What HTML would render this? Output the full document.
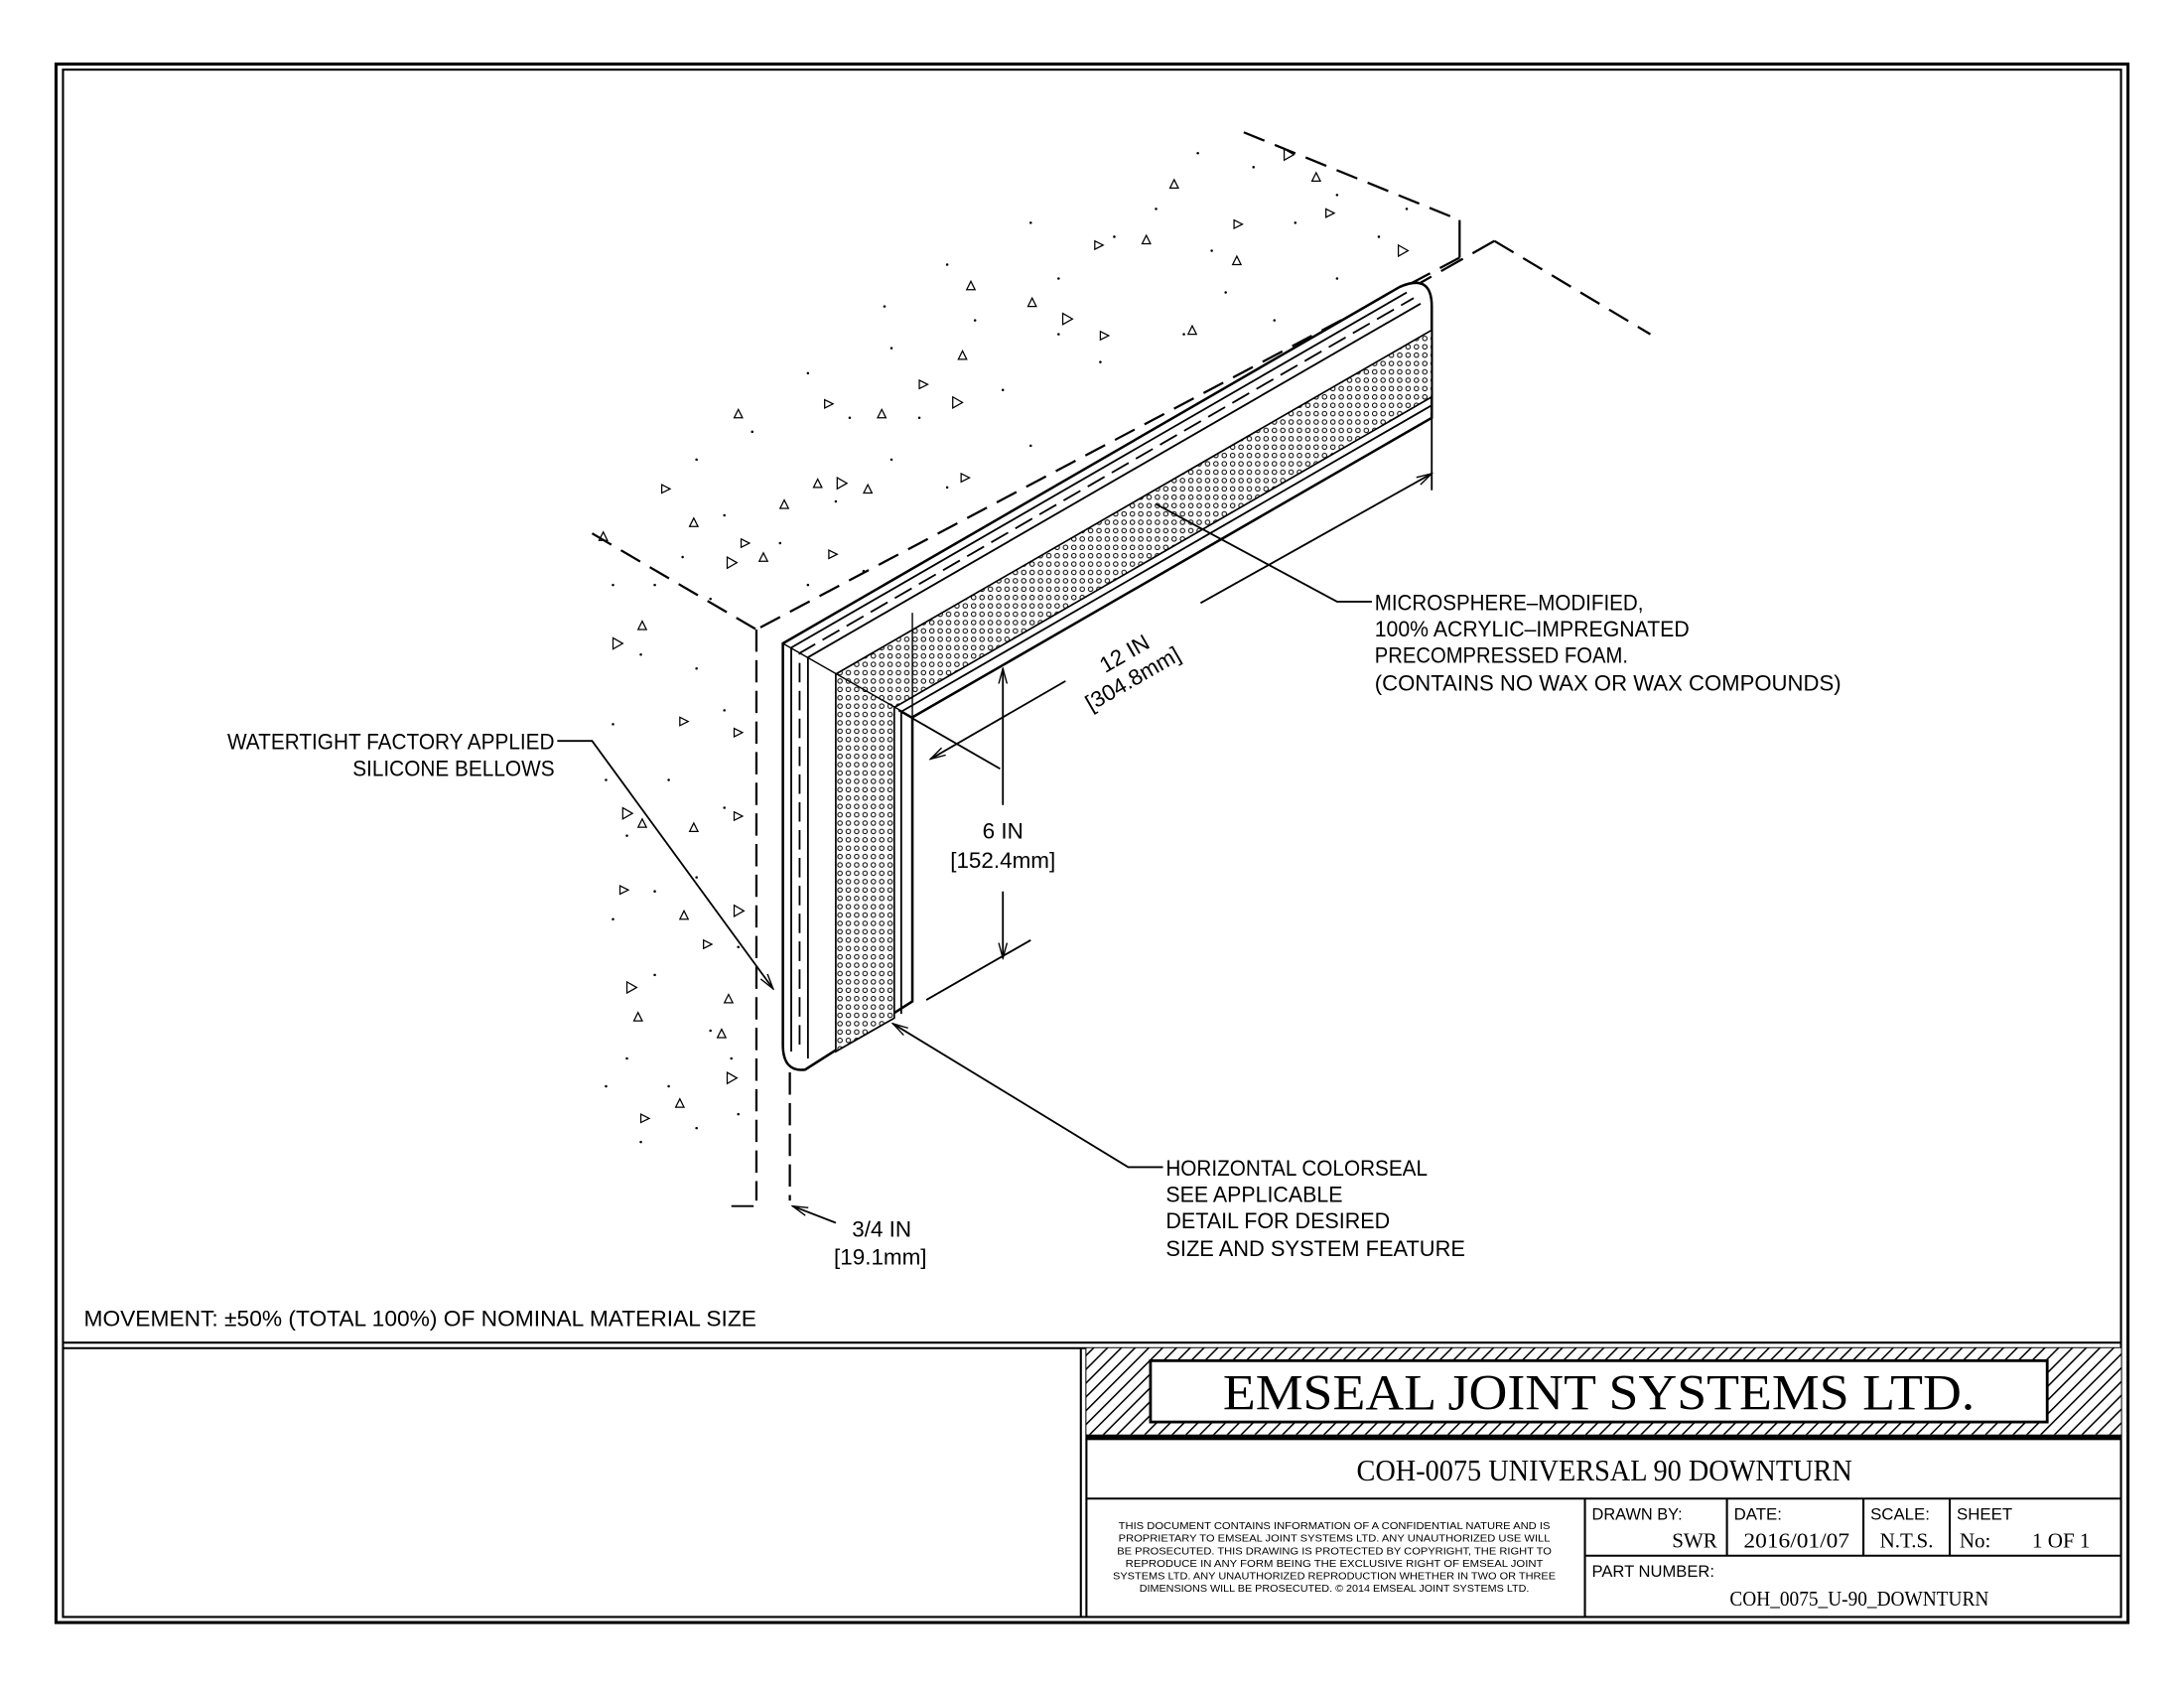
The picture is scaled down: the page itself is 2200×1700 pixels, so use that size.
<!DOCTYPE html>
<html><head><meta charset="utf-8"><style>
html,body{margin:0;padding:0;background:#fff;}
svg{display:block;}
text{font-family:"Liberation Sans",sans-serif;fill:#000;}
.s{font-family:"Liberation Serif",serif;}
</style></head><body>
<svg width="2200" height="1700" viewBox="0 0 1568 1212" xmlns="http://www.w3.org/2000/svg">
<defs>
<pattern id="hat" width="7" height="7" patternUnits="userSpaceOnUse" patternTransform="rotate(45)">
<rect width="7" height="7" fill="#fff"/><line x1="0" y1="0" x2="0" y2="7" stroke="#000" stroke-width="2.2"/></pattern>
<pattern id="dots" width="6" height="6" patternUnits="userSpaceOnUse">
<rect width="6" height="6" fill="#fff"/><circle cx="3" cy="3" r="1.6" fill="none" stroke="#000" stroke-width="0.7"/></pattern>
<marker id="ar" markerWidth="12" markerHeight="8" refX="11" refY="4" orient="auto" markerUnits="userSpaceOnUse"><path d="M0,1 L11,4 L0,7" fill="none" stroke="#000" stroke-width="1"/></marker>
</defs>
<rect width="1568" height="1212" fill="#fff"/>
<g fill="none" stroke="#000">
<rect x="40" y="46" width="1488" height="1119" stroke-width="2.2"/>
<rect x="45" y="50" width="1478" height="1111" stroke-width="1.5"/>
<line x1="45" y1="964" x2="1523" y2="964" stroke-width="1.5"/>
<line x1="45" y1="968" x2="1523" y2="968" stroke-width="1.5"/>
<line x1="776" y1="968" x2="776" y2="1161" stroke-width="1.5"/>
<line x1="780" y1="968" x2="780" y2="1161" stroke-width="1.5"/>
</g>
<!-- title block -->
<rect x="780" y="968" width="743" height="62" fill="url(#hat)"/>
<rect x="826" y="977" width="644" height="44" fill="#fff" stroke="#000" stroke-width="2"/>
<rect x="780" y="1030" width="743" height="4" fill="#000"/>
<g fill="none" stroke="#000" stroke-width="1.5">
<line x1="780" y1="1076" x2="1523" y2="1076"/>
<line x1="1138" y1="1076" x2="1138" y2="1161"/>
<line x1="1240" y1="1076" x2="1240" y2="1117"/>
<line x1="1338" y1="1076" x2="1338" y2="1117"/>
<line x1="1400" y1="1076" x2="1400" y2="1117"/>
<line x1="1138" y1="1117" x2="1523" y2="1117"/>
</g>
<text class="s" x="1148" y="1012" font-size="36" text-anchor="middle" textLength="540" lengthAdjust="spacingAndGlyphs">EMSEAL JOINT SYSTEMS LTD.</text>
<text class="s" x="1152" y="1063" font-size="22" text-anchor="middle" textLength="356" lengthAdjust="spacingAndGlyphs">COH-0075 UNIVERSAL 90 DOWNTURN</text>
<g font-size="7.5" text-anchor="middle">
<text x="958" y="1098" textLength="310" lengthAdjust="spacingAndGlyphs">THIS DOCUMENT CONTAINS INFORMATION OF A CONFIDENTIAL NATURE AND IS</text>
<text x="958" y="1107" textLength="310" lengthAdjust="spacingAndGlyphs">PROPRIETARY TO EMSEAL JOINT SYSTEMS LTD. ANY UNAUTHORIZED USE WILL</text>
<text x="958" y="1116" textLength="312" lengthAdjust="spacingAndGlyphs">BE PROSECUTED. THIS DRAWING IS PROTECTED BY COPYRIGHT, THE RIGHT TO</text>
<text x="958" y="1125" textLength="300" lengthAdjust="spacingAndGlyphs">REPRODUCE IN ANY FORM BEING THE EXCLUSIVE RIGHT OF EMSEAL JOINT</text>
<text x="958" y="1134" textLength="318" lengthAdjust="spacingAndGlyphs">SYSTEMS LTD. ANY UNAUTHORIZED REPRODUCTION WHETHER IN TWO OR THREE</text>
<text x="958" y="1143" textLength="280" lengthAdjust="spacingAndGlyphs">DIMENSIONS WILL BE PROSECUTED. © 2014 EMSEAL JOINT SYSTEMS LTD.</text>
</g>
<g font-size="12">
<text x="1143" y="1091" textLength="65" lengthAdjust="spacingAndGlyphs">DRAWN BY:</text>
<text x="1245" y="1091">DATE:</text>
<text x="1343" y="1091">SCALE:</text>
<text x="1405" y="1091">SHEET</text>
<text x="1143" y="1132" textLength="88" lengthAdjust="spacingAndGlyphs">PART NUMBER:</text>
</g>
<g class="s" font-size="15">
<text class="s" x="1233" y="1111" text-anchor="end">SWR</text>
<text class="s" x="1290" y="1111" text-anchor="middle" textLength="76" lengthAdjust="spacingAndGlyphs">2016/01/07</text>
<text class="s" x="1369" y="1111" text-anchor="middle">N.T.S.</text>
<text class="s" x="1407" y="1111">No:</text>
<text class="s" x="1480" y="1111" text-anchor="middle">1 OF 1</text>
<text class="s" x="1335" y="1153" text-anchor="middle" textLength="186" lengthAdjust="spacingAndGlyphs">COH_0075_U-90_DOWNTURN</text>
</g>
<!-- concrete texture -->
<g fill="#000">
<circle cx="580" cy="268" r="0.9"/><circle cx="610" cy="300" r="0.9"/><circle cx="640" cy="250" r="0.9"/><circle cx="700" cy="230" r="0.9"/><circle cx="720" cy="280" r="0.9"/><circle cx="760" cy="200" r="0.9"/><circle cx="800" cy="170" r="0.9"/><circle cx="830" cy="150" r="0.9"/><circle cx="870" cy="180" r="0.9"/><circle cx="900" cy="120" r="0.9"/><circle cx="930" cy="160" r="0.9"/><circle cx="960" cy="140" r="0.9"/><circle cx="990" cy="170" r="0.9"/><circle cx="1010" cy="150" r="0.9"/><circle cx="850" cy="240" r="0.9"/><circle cx="790" cy="260" r="0.9"/><circle cx="740" cy="320" r="0.9"/><circle cx="680" cy="350" r="0.9"/><circle cx="640" cy="330" r="0.9"/><circle cx="600" cy="360" r="0.9"/><circle cx="560" cy="390" r="0.9"/><circle cx="520" cy="370" r="0.9"/><circle cx="490" cy="400" r="0.9"/><circle cx="470" cy="420" r="0.9"/><circle cx="510" cy="430" r="0.9"/><circle cx="500" cy="330" r="0.9"/><circle cx="540" cy="310" r="0.9"/><circle cx="660" cy="300" r="0.9"/><circle cx="700" cy="390" r="0.9"/><circle cx="620" cy="410" r="0.9"/><circle cx="580" cy="420" r="0.9"/><circle cx="760" cy="240" r="0.9"/><circle cx="880" cy="210" r="0.9"/><circle cx="915" cy="230" r="0.9"/><circle cx="960" cy="200" r="0.9"/><circle cx="860" cy="110" r="0.9"/><circle cx="740" cy="160" r="0.9"/><circle cx="680" cy="190" r="0.9"/><circle cx="635" cy="220" r="0.9"/>
<circle cx="440" cy="420" r="0.9"/><circle cx="460" cy="470" r="0.9"/><circle cx="500" cy="480" r="0.9"/><circle cx="440" cy="520" r="0.9"/><circle cx="480" cy="560" r="0.9"/><circle cx="520" cy="580" r="0.9"/><circle cx="450" cy="600" r="0.9"/><circle cx="500" cy="630" r="0.9"/><circle cx="440" cy="660" r="0.9"/><circle cx="530" cy="680" r="0.9"/><circle cx="470" cy="700" r="0.9"/><circle cx="510" cy="740" r="0.9"/><circle cx="450" cy="760" r="0.9"/><circle cx="480" cy="780" r="0.9"/><circle cx="530" cy="800" r="0.9"/><circle cx="460" cy="820" r="0.9"/><circle cx="500" cy="810" r="0.9"/><circle cx="435" cy="780" r="0.9"/><circle cx="520" cy="510" r="0.9"/><circle cx="470" cy="640" r="0.9"/><circle cx="435" cy="560" r="0.9"/><circle cx="525" cy="760" r="0.9"/>
</g>
<g fill="none" stroke="#000" stroke-width="0.9">
<path d="M592,287 l6,3 l-6,3z"/><path d="M630,300 l3,-6 l3,6z"/><path d="M660,273 l6,3 l-6,3z"/><path d="M688,258 l3,-6 l3,6z"/><path d="M684,285 l7,4 l-7,4z"/><path d="M738,220 l3,-6 l3,6z"/><path d="M763,225 l7,4 l-7,4z"/><path d="M790,238 l6,3 l-6,3z"/><path d="M853,240 l3,-6 l3,6z"/><path d="M820,175 l3,-6 l3,6z"/><path d="M786,173 l6,3 l-6,3z"/><path d="M840,135 l3,-6 l3,6z"/><path d="M886,158 l6,3 l-6,3z"/><path d="M922,107 l7,4 l-7,4z"/><path d="M942,130 l3,-6 l3,6z"/><path d="M952,150 l6,3 l-6,3z"/><path d="M1004,176 l7,4 l-7,4z"/><path d="M885,190 l3,-6 l3,6z"/><path d="M694,208 l3,-6 l3,6z"/><path d="M601,343 l7,4 l-7,4z"/><path d="M584,350 l3,-6 l3,6z"/><path d="M620,354 l3,-6 l3,6z"/><path d="M690,340 l6,3 l-6,3z"/><path d="M527,300 l3,-6 l3,6z"/><path d="M560,365 l3,-6 l3,6z"/><path d="M475,348 l6,3 l-6,3z"/><path d="M495,378 l3,-6 l3,6z"/><path d="M532,387 l6,3 l-6,3z"/><path d="M522,400 l7,4 l-7,4z"/><path d="M545,403 l3,-6 l3,6z"/><path d="M595,395 l6,3 l-6,3z"/><path d="M430,388 l3,-6 l3,6z"/>
<path d="M440,458 l7,4 l-7,4z"/><path d="M458,452 l3,-6 l3,6z"/><path d="M488,515 l6,3 l-6,3z"/><path d="M527,523 l6,3 l-6,3z"/><path d="M447,580 l7,4 l-7,4z"/><path d="M458,594 l3,-6 l3,6z"/><path d="M495,597 l3,-6 l3,6z"/><path d="M527,583 l6,3 l-6,3z"/><path d="M445,636 l6,3 l-6,3z"/><path d="M488,660 l3,-6 l3,6z"/><path d="M527,650 l7,4 l-7,4z"/><path d="M505,675 l6,3 l-6,3z"/><path d="M450,705 l7,4 l-7,4z"/><path d="M455,733 l3,-6 l3,6z"/><path d="M520,720 l3,-6 l3,6z"/><path d="M522,770 l7,4 l-7,4z"/><path d="M485,795 l3,-6 l3,6z"/><path d="M460,800 l6,3 l-6,3z"/><path d="M515,745 l3,-6 l3,6z"/>
</g>
<!-- concrete edges -->
<g fill="none" stroke="#000" stroke-width="1.6">
<line x1="893" y1="95" x2="1048" y2="158" stroke-dasharray="16,8"/>
<line x1="1048" y1="158" x2="1048" y2="185"/>
<line x1="1048" y1="185" x2="543" y2="452" stroke-dasharray="16,8"/>
<line x1="425" y1="383" x2="543" y2="452" stroke-dasharray="16,8"/>
<line x1="543" y1="452" x2="543" y2="862" stroke-dasharray="16,6"/>
<line x1="1073" y1="173" x2="1185" y2="240" stroke-dasharray="16,8"/>
<line x1="1073" y1="173" x2="1020" y2="203" stroke-dasharray="18,8"/>
<line x1="567" y1="770" x2="567" y2="862" stroke-dasharray="16,6"/>
</g>
<!-- seal -->
<path d="M562,462 L1005,206 Q1028,196 1028,220 L1028,300 L655,515 L655,719 L578,768 Q562,770 562,750 Z" fill="#fff" stroke="#000" stroke-width="1.8"/>
<path d="M600,755 L600,484 L1028,237 L1028,285 L642,508 L642,731 Z" fill="url(#dots)" stroke="#000" stroke-width="1.2"/>
<g fill="none" stroke="#000" stroke-width="1.3">
<polyline points="568,755 568,465 1010,210"/>
<polyline points="580,760 580,472 1020,218"/>
<polyline points="574,750 574,469 1015,214" stroke-dasharray="14,6"/>
<polyline points="647,728 647,511 1028,291"/>
<line x1="562" y1="462" x2="655" y2="515" stroke-width="1"/>
<line x1="655" y1="440" x2="655" y2="515" stroke-width="1"/>
</g>
<!-- dimensions -->
<g fill="none" stroke="#000" stroke-width="1.3">
<line x1="1028" y1="300" x2="1028" y2="352"/>
<line x1="645" y1="510" x2="718" y2="552"/>
<line x1="765" y1="489" x2="668" y2="545" marker-end="url(#ar)"/>
<line x1="862" y1="433" x2="1028" y2="340" marker-end="url(#ar)"/>
<line x1="720" y1="578" x2="720" y2="480" marker-end="url(#ar)"/>
<line x1="720" y1="640" x2="720" y2="688" marker-end="url(#ar)"/>
<line x1="665" y1="718" x2="740" y2="675"/>
<line x1="600" y1="878" x2="569" y2="866" marker-end="url(#ar)"/>
<line x1="525" y1="866" x2="541" y2="866"/>
<!-- leaders -->
<polyline points="400,532 425,532 555,710" marker-end="url(#ar)"/>
<polyline points="985,432 960,432 830,362"/>
<polyline points="835,838 810,838 641,735" marker-end="url(#ar)"/>
</g>
<text x="0" y="0" font-size="16" text-anchor="middle" transform="translate(810,474) rotate(-30)">12 IN</text>
<text x="0" y="0" font-size="16" text-anchor="middle" transform="translate(816,492) rotate(-30)">[304.8mm]</text>
<g font-size="16">
<text x="720" y="602" text-anchor="middle">6 IN</text>
<text x="720" y="623" text-anchor="middle">[152.4mm]</text>
<text x="633" y="888" text-anchor="middle">3/4 IN</text>
<text x="632" y="908" text-anchor="middle">[19.1mm]</text>
<text x="398" y="538" text-anchor="end" textLength="235" lengthAdjust="spacingAndGlyphs">WATERTIGHT FACTORY APPLIED</text>
<text x="398" y="557" text-anchor="end" textLength="145" lengthAdjust="spacingAndGlyphs">SILICONE BELLOWS</text>
<text x="987" y="438" textLength="193" lengthAdjust="spacingAndGlyphs">MICROSPHERE–MODIFIED,</text>
<text x="987" y="457" textLength="226" lengthAdjust="spacingAndGlyphs">100% ACRYLIC–IMPREGNATED</text>
<text x="987" y="476" textLength="182" lengthAdjust="spacingAndGlyphs">PRECOMPRESSED FOAM.</text>
<text x="987" y="496" textLength="335" lengthAdjust="spacingAndGlyphs">(CONTAINS NO WAX OR WAX COMPOUNDS)</text>
<text x="837" y="844" textLength="188" lengthAdjust="spacingAndGlyphs">HORIZONTAL COLORSEAL</text>
<text x="837" y="863" textLength="127" lengthAdjust="spacingAndGlyphs">SEE APPLICABLE</text>
<text x="837" y="882" textLength="161" lengthAdjust="spacingAndGlyphs">DETAIL FOR DESIRED</text>
<text x="837" y="902" textLength="215" lengthAdjust="spacingAndGlyphs">SIZE AND SYSTEM FEATURE</text>
<text x="60" y="952" textLength="483" lengthAdjust="spacingAndGlyphs">MOVEMENT: ±50% (TOTAL 100%) OF NOMINAL MATERIAL SIZE</text>
</g>
</svg>
</body></html>
